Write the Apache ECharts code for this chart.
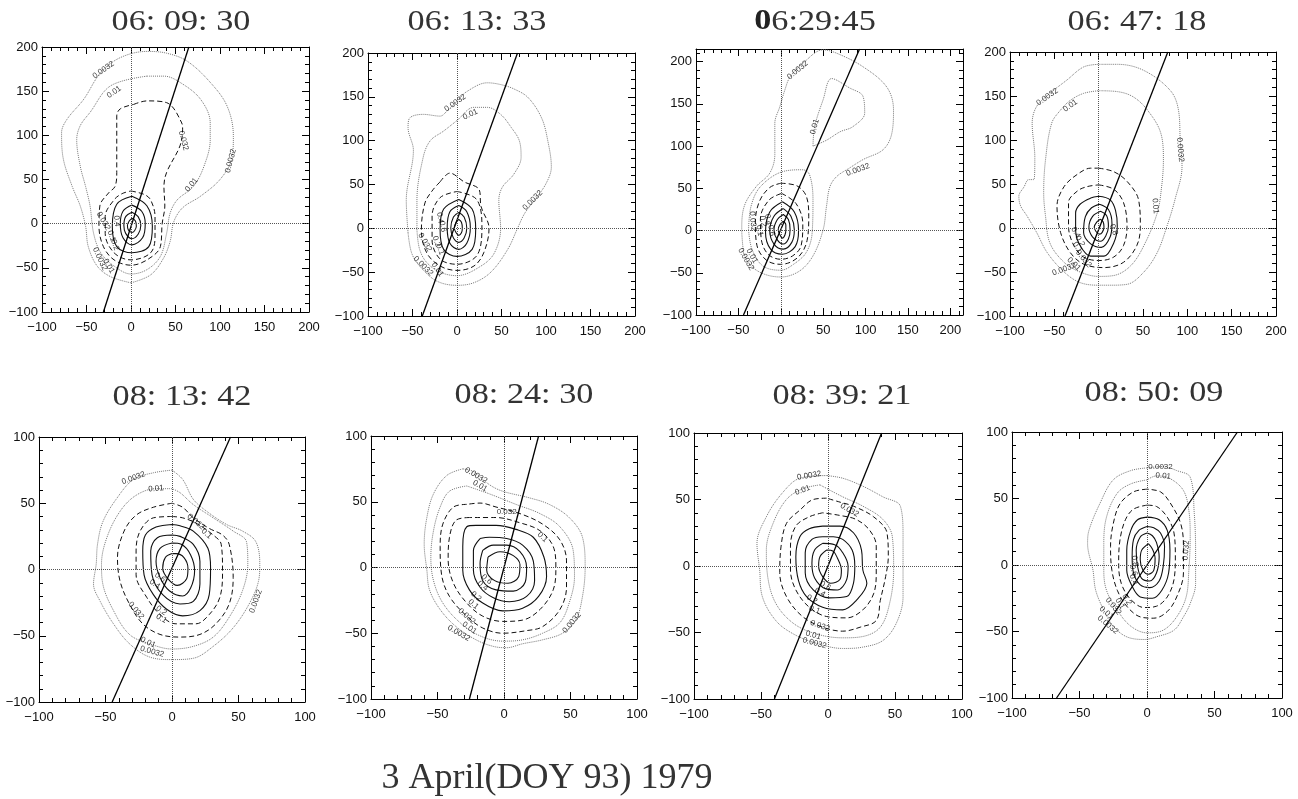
<!DOCTYPE html>
<html><head><meta charset="utf-8">
<script src="https://cdn.jsdelivr.net/npm/echarts@6/dist/echarts.min.js"></script>
<style>html,body{margin:0;padding:0;background:#fff}#c{width:1298px;height:799px}</style>
</head><body><div id="c"></div>
<script>
// ---------------- DATA ----------------
const panelTitles = ['06: 09: 30','06: 13: 33','06:29:45','06: 47: 18','08: 13: 42','08: 24: 30','08: 39: 21','08: 50: 09'];
const figureTitle = '3 April(DOY 93) 1979';
const axisMin = [-100,-100,-100,-100,-100,-100,-100,-100];
const axisMax = [200,200,215,200,100,100,100,100];
const tickStep = 50;
const levels = [0.0032, 0.01, 0.032, 0.1, 0.2, 0.4, 0.6, 0.8];
// straight line through each panel: [point at bottom edge, point at top edge]
const lineEnds = [
  [[-31,-100],[65,200]], [[-39,-100],[68,200]], [[-44,-100],[93,215]], [[-38,-100],[78,200]],
  [[-45,-100],[44,100]], [[-26,-100],[26,100]], [[-40,-100],[40,100]], [[-67,-100],[67,100]]
];
// contours: [level, closed outline points]
const contours1 = [
 [0.0032, [[0,-67],[-23,-60],[-38,-48],[-48,-26],[-51,-3],[-57,20],[-66,42],[-76,73],[-78,103],[-72,118],[-53,141],[-34,171],[-12,188],[18,195],[40,193],[63,184],[89,160],[108,133],[115,99],[113,73],[100,50],[78,31],[58,18],[48,2],[44,-20],[36,-40],[22,-58]]],
 [0.01, [[18,167],[37,167],[55,160],[78,141],[89,114],[89,95],[82,65],[70,42],[52,27],[44,12],[40,-11],[33,-37],[18,-52],[0,-57],[-19,-48],[-34,-33],[-42,-11],[-46,20],[-51,42],[-57,65],[-61,95],[-57,111],[-46,126],[-23,156]]],
 [0.032, [[3,135],[18,139],[40,137],[57,114],[58,107],[55,88],[40,58],[37,42],[38,20],[35,0],[33,-26],[18,-41],[0,-47],[-19,-41],[-31,-26],[-36,-3],[-35,20],[-25,35],[-18,42],[-16,58],[-16,122],[-12,130]]],
 [0.1, [[0,37],[15,33],[22,27],[27,8],[27,-14],[22,-33],[0,-41],[-19,-33],[-29,-11],[-29,8],[-19,27],[-10,34]]],
 [0.2, [[1,31],[18,20],[24,-3],[20,-26],[1,-33],[-16,-26],[-21,-3],[-16,22]]],
 [0.4, [[1,21],[12,14],[16,0],[13,-16],[1,-24],[-9,-16],[-12,0],[-9,14]]],
 [0.6, [[1,13],[8,8],[11,-2],[8,-12],[1,-17],[-6,-11],[-8,-2],[-6,8]]],
 [0.8, [[1,6],[5,3],[6,-3],[4,-8],[1,-10],[-3,-7],[-4,-2],[-2,3]]]
];
const contours2 = [
 [0.0032, [[-55,-5],[-57,32],[-49,89],[-55,115],[-53,126],[-38,130],[-19,128],[-11,134],[0,145],[11,156],[34,166],[49,164],[64,159],[80,149],[95,126],[102,100],[106,70],[100,51],[87,32],[76,17],[68,0],[57,-24],[38,-50],[19,-62],[0,-65],[-23,-60],[-42,-43],[-51,-28]]],
 [0.01, [[-45,-2],[-45,32],[-38,81],[-30,100],[-15,111],[0,123],[19,138],[34,138],[49,130],[61,115],[70,100],[72,81],[64,62],[51,47],[47,32],[49,0],[42,-28],[27,-43],[0,-54],[-19,-50],[-34,-39],[-42,-24]]],
 [0.032, [[-19,53],[-8,63],[8,53],[25,44],[27,25],[36,0],[30,-28],[19,-43],[0,-48],[-19,-43],[-34,-28],[-40,-2],[-36,29],[-27,44]]],
 [0.1, [[0,42],[22,33],[28,3],[23,-30],[0,-41],[-19,-35],[-28,-13],[-28,14],[-19,35]]],
 [0.2, [[2,33],[17,22],[21,-1],[17,-24],[0,-32],[-15,-24],[-19,-1],[-15,22]]],
 [0.4, [[2,26],[11,19],[15,1],[11,-17],[2,-24],[-8,-17],[-11,1],[-8,19]]],
 [0.6, [[2,18],[8,13],[11,0],[8,-11],[2,-16],[-4,-11],[-7,0],[-4,13]]],
 [0.8, [[2,10],[5,7],[6,0],[5,-5],[2,-8],[-1,-5],[-3,0],[-1,7]]]
];
const contours3 = [
 [0.0032, [[-44,-26],[-46,1],[-43,29],[-29,52],[-13,68],[-7,90],[-7,127],[-1,147],[5,167],[11,182],[26,198],[50,214],[66,210],[97,194],[125,170],[133,143],[131,115],[121,96],[97,84],[81,74],[66,64],[58,52],[54,29],[50,1],[38,-30],[22,-48],[0,-55],[-21,-51],[-37,-40]]],
 [0.01, [[-38,1],[-35,29],[-24,52],[3,70],[26,72],[34,66],[38,37],[37,-3],[30,-26],[15,-40],[0,-47],[-21,-42],[-34,-22]]],
 [0.01, [[38,100],[40,123],[50,155],[60,180],[81,169],[97,159],[99,139],[85,123],[70,117],[54,107]]],
 [0.032, [[0,56],[19,53],[30,41],[33,17],[31,-12],[20,-32],[0,-40],[-17,-35],[-28,-18],[-30,10],[-25,35],[-13,51]]],
 [0.1, [[1,44],[18,32],[26,8],[24,-18],[14,-30],[0,-34],[-15,-28],[-23,-10],[-24,14],[-14,36]]],
 [0.2, [[2,34],[16,22],[21,0],[17,-19],[2,-28],[-12,-22],[-18,-2],[-13,22]]],
 [0.4, [[3,26],[12,17],[16,1],[13,-14],[3,-22],[-8,-16],[-13,0],[-8,17]]],
 [0.6, [[3,19],[9,13],[11,1],[9,-10],[3,-16],[-4,-11],[-8,1],[-4,13]]],
 [0.8, [[3,11],[6,7],[6,1],[5,-5],[2,-9],[-1,-5],[-3,1],[-1,7]]]
];
const contours4 = [
 [0.0032, [[0,186],[21,186],[51,179],[81,156],[90,134],[92,100],[94,70],[86,32],[77,2],[66,-28],[51,-50],[32,-64],[13,-65],[0,-65],[-21,-62],[-39,-50],[-58,-28],[-70,-5],[-81,14],[-88,25],[-90,36],[-84,47],[-79,55],[-73,55],[-72,80],[-75,119],[-70,138],[-55,153],[-36,168],[-17,183]]],
 [0.01, [[0,156],[21,155],[39,149],[55,134],[70,108],[73,77],[71,47],[66,17],[51,-20],[36,-43],[17,-54],[0,-55],[-21,-50],[-39,-39],[-55,-17],[-60,14],[-62,40],[-60,77],[-53,119],[-43,134],[-32,145],[-17,153]]],
 [0.032, [[0,68],[17,64],[32,53],[45,32],[47,2],[43,-20],[28,-39],[6,-45],[-17,-41],[-32,-28],[-43,-5],[-47,25],[-39,47],[-24,61],[-9,68]]],
 [0.1, [[0,49],[17,44],[28,29],[32,2],[28,-20],[17,-33],[0,-37],[-17,-33],[-28,-20],[-34,2],[-34,29],[-24,42],[-13,47]]],
 [0.2, [[0,36],[13,32],[19,20],[21,2],[17,-17],[6,-32],[-9,-32],[-21,-20],[-26,-2],[-26,17],[-21,27],[-9,34]]],
 [0.4, [[1,27],[11,21],[15,5],[13,-10],[3,-22],[-9,-18],[-17,-5],[-15,13],[-8,23]]],
 [0.6, [[2,19],[9,14],[11,2],[8,-9],[2,-15],[-7,-10],[-11,1],[-7,13]]],
 [0.8, [[2,10],[5,7],[6,1],[4,-5],[1,-7],[-3,-4],[-5,1],[-2,7]]]
];
const contours5 = [
 [0.0032, [[0,75],[-14,73],[-29,68],[-42,53],[-52,36],[-56,19],[-57,4],[-59,-11],[-54,-24],[-44,-41],[-32,-56],[-17,-66],[0,-68],[16,-67],[31,-58],[46,-44],[58,-26],[65,-9],[66,4],[63,21],[53,29],[41,34],[26,44],[16,53],[8,68]]],
 [0.01, [[0,61],[-12,61],[-27,56],[-39,44],[-49,24],[-53,4],[-52,-11],[-44,-31],[-32,-49],[-17,-56],[0,-60],[16,-58],[31,-51],[43,-36],[53,-16],[57,4],[56,21],[46,29],[31,39],[16,49],[6,58]]],
 [0.032, [[0,50],[-14,47],[-27,41],[-36,29],[-41,9],[-39,-9],[-32,-26],[-22,-41],[-9,-49],[6,-51],[21,-49],[33,-41],[43,-26],[46,-6],[43,19],[38,26],[28,31],[16,39],[8,47]]],
 [0.1, [[0,40],[-14,39],[-24,29],[-27,14],[-27,-4],[-19,-21],[-9,-34],[3,-41],[18,-41],[28,-34],[36,-21],[38,-1],[37,19],[31,26],[18,35],[8,39]]],
 [0.2, [[0,34],[-12,32],[-20,26],[-22,14],[-21,-4],[-14,-19],[-4,-30],[8,-35],[21,-31],[28,-19],[29,1],[27,16],[16,29],[6,33]]],
 [0.4, [[0,26],[-11,24],[-16,14],[-15,-4],[-7,-19],[6,-26],[16,-24],[21,-11],[21,6],[16,19],[6,25]]],
 [0.6, [[0,20],[-9,16],[-12,6],[-9,-6],[-2,-16],[8,-20],[14,-14],[17,-1],[14,11],[7,19]]],
 [0.8, [[0,12],[-5,9],[-7,1],[-3,-7],[4,-12],[11,-7],[12,1],[9,9],[3,12]]]
];
const contours6 = [
 [0.0032, [[-31,75],[-43,70],[-53,56],[-58,38],[-60,18],[-58,-2],[-56,-17],[-48,-32],[-36,-45],[-21,-55],[-8,-60],[2,-61],[14,-58],[29,-55],[44,-50],[54,-40],[59,-22],[61,0],[59,23],[49,38],[34,48],[19,53],[-1,58],[-11,63],[-23,73]]],
 [0.01, [[-28,62],[-41,58],[-48,46],[-53,28],[-55,8],[-53,-10],[-46,-27],[-33,-42],[-18,-52],[-1,-56],[14,-55],[29,-50],[42,-42],[49,-27],[53,-7],[52,13],[42,31],[27,41],[9,48],[-11,56]]],
 [0.032, [[-28,48],[-38,46],[-46,33],[-48,16],[-47,-5],[-41,-22],[-28,-37],[-16,-46],[-1,-50],[17,-48],[29,-45],[42,-32],[47,-15],[47,5],[42,21],[29,33],[12,41],[-6,46],[-18,49]]],
 [0.1, [[-26,38],[-36,36],[-41,23],[-42,6],[-38,-12],[-28,-27],[-16,-37],[-1,-41],[14,-40],[27,-32],[37,-17],[39,0],[37,16],[27,28],[12,34],[-6,38]]],
 [0.2, [[-21,32],[-28,31],[-31,16],[-31,-2],[-26,-17],[-16,-27],[-1,-33],[14,-31],[26,-22],[32,-7],[30,8],[22,23],[9,29],[-6,32]]],
 [0.4, [[-18,22],[-23,13],[-23,-2],[-18,-15],[-8,-23],[4,-26],[17,-22],[23,-10],[22,5],[14,17],[2,22],[-11,23]]],
 [0.6, [[-16,13],[-18,3],[-16,-10],[-6,-17],[7,-18],[16,-11],[17,0],[12,12],[2,17],[-8,17]]],
 [0.8, [[-12,8],[-13,-2],[-7,-10],[3,-12],[11,-7],[12,2],[7,9],[-3,12]]]
];
const contours7 = [
 [0.0032, [[-1,68],[-21,66],[-34,55],[-46,37],[-53,17],[-51,-3],[-49,-23],[-39,-41],[-26,-51],[-9,-58],[11,-62],[26,-61],[41,-56],[51,-43],[56,-23],[56,2],[56,22],[54,45],[41,52],[26,60],[11,66]]],
 [0.01, [[-6,61],[-19,58],[-31,50],[-41,32],[-46,12],[-45,-8],[-39,-28],[-26,-43],[-9,-51],[11,-54],[26,-53],[39,-46],[46,-28],[49,-3],[48,22],[41,35],[26,45],[11,52]]],
 [0.032, [[-1,51],[-11,50],[-21,42],[-31,32],[-35,15],[-36,-5],[-31,-23],[-19,-38],[-4,-46],[11,-49],[24,-46],[36,-41],[39,-26],[43,-8],[45,7],[44,25],[34,37],[19,45],[9,48]]],
 [0.1, [[-4,40],[-14,37],[-24,30],[-28,15],[-28,-3],[-24,-18],[-14,-31],[-1,-38],[14,-39],[26,-33],[34,-21],[36,-6],[36,15],[31,27],[21,35],[9,38]]],
 [0.2, [[-4,30],[-14,28],[-21,22],[-24,7],[-22,-11],[-16,-23],[-4,-31],[11,-33],[21,-26],[29,-13],[26,-3],[25,12],[19,25],[9,30]]],
 [0.4, [[-4,22],[-12,20],[-17,10],[-17,-5],[-11,-18],[1,-24],[14,-23],[19,-13],[20,0],[18,12],[11,20],[4,22]]],
 [0.6, [[-4,17],[-10,12],[-12,2],[-10,-9],[-2,-17],[7,-18],[14,-10],[15,0],[11,10],[5,16]]],
 [0.8, [[-1,12],[-6,7],[-7,0],[-4,-8],[2,-13],[9,-10],[10,-3],[7,6],[4,11]]]
];
const contours8 = [
 [0.0032, [[0,73],[-12,71],[-25,64],[-35,46],[-43,26],[-44,16],[-40,-4],[-38,-19],[-32,-34],[-25,-46],[-15,-54],[-2,-56],[7,-54],[20,-49],[27,-39],[32,-29],[36,-14],[36,11],[35,39],[32,66],[22,71],[12,74]]],
 [0.01, [[0,64],[-12,61],[-22,54],[-30,36],[-32,16],[-32,-4],[-30,-19],[-22,-34],[-12,-46],[0,-51],[12,-49],[22,-39],[29,-24],[31,-4],[32,21],[31,41],[27,56],[17,65],[7,67]]],
 [0.032, [[0,57],[-10,55],[-20,46],[-25,31],[-27,14],[-26,-4],[-22,-19],[-15,-31],[-5,-39],[5,-40],[15,-35],[22,-24],[27,-6],[27,14],[25,31],[17,47],[10,55]]],
 [0.1, [[0,45],[-10,42],[-16,34],[-20,19],[-21,1],[-19,-14],[-12,-26],[-2,-32],[7,-31],[15,-24],[20,-11],[21,6],[20,24],[15,36],[7,44]]],
 [0.2, [[0,36],[-7,34],[-12,26],[-15,11],[-15,-4],[-11,-16],[-5,-24],[4,-25],[11,-19],[16,-6],[17,11],[15,26],[9,34]]],
 [0.4, [[0,29],[-6,26],[-10,19],[-11,6],[-10,-6],[-5,-15],[2,-17],[9,-12],[12,-1],[13,14],[10,24],[5,28]]],
 [0.6, [[0,24],[-5,21],[-8,11],[-7,-1],[-4,-10],[2,-12],[7,-6],[9,6],[7,17],[4,22]]],
 [0.8, [[1,16],[-4,11],[-5,4],[-3,-4],[1,-7],[5,-4],[6,5],[4,12]]]
];
// contour labels: [x, y, text, angle]
const labels1 = [[-31,174,'0.0032',35],[-19,149,'0.01',35],[59,94,'0.032',-75],[112,71,'0.0032',75],[68,44,'0.01',50],[-31,3,'0.032',-60],[-16,3,'0.4',-85],[-22,-14,'0.1',-70],[-18,-24,'0.2',-70],[-35,-40,'0.0032',-65],[-25,-48,'0.01',-60]];
const labels2 = [[-2,143,'0.0032',35],[15,130,'0.01',25],[85,32,'0.0032',45],[-19,12,'0.4',-80],[-16,2,'0.6',-80],[-36,-16,'0.032',-60],[-23,-15,'0.2',-70],[-19,-24,'0.1',-70],[-38,-43,'0.0032',-45],[-22,-47,'0.01',-55]];
const labels3 = [[20,190,'0.0032',40],[40,123,'0.01',75],[91,72,'0.0032',20],[-33,11,'0.032',-85],[-15,13,'0.4',-80],[-21,11,'0.2',-80],[-25,0,'0.1',-80],[-11,0,'0.6',-80],[-41,-34,'0.0032',-60],[-34,-30,'0.01',-60]];
const labels4 = [[-58,149,'0.0032',35],[-32,139,'0.01',35],[92,89,'0.0032',-85],[64,25,'0.01',-85],[17,-2,'0.8',-70],[-26,-5,'0.4',-60],[-21,-15,'0.2',-60],[-24,-22,'0.1',-55],[-17,-35,'0.032',-50],[-28,-41,'0.01',-45],[-39,-47,'0.0032',20]];
const labels5 = [[-29,69,'0.0032',20],[-12,61,'0.01',5],[18,36,'0.032',-40],[26,27,'0.1',-40],[-9,-6,'0.6',-35],[-13,-11,'0.4',-35],[-27,-31,'0.032',-50],[-8,-31,'0.2',-35],[-8,-37,'0.1',-30],[-18,-55,'0.01',-25],[-15,-62,'0.0032',-15],[63,-24,'0.0032',70]];
const labels6 = [[-21,70,'0.0032',-30],[-18,62,'0.01',-30],[2,42,'0.032',0],[29,23,'0.1',-45],[-13,-9,'0.6',-40],[-16,-14,'0.4',-40],[-21,-22,'0.2',-40],[-23,-28,'0.1',-40],[-28,-37,'0.032',-40],[-26,-46,'0.01',-35],[-34,-50,'0.0032',-30],[51,-42,'0.0032',50]];
const labels7 = [[-14,68,'0.0032',10],[-19,57,'0.01',20],[16,42,'0.032',-30],[-2,-15,'0.6',-30],[-6,-20,'0.4',-30],[-12,-25,'0.2',-30],[-10,-33,'0.1',-20],[-6,-45,'0.032',-20],[-11,-52,'0.01',-15],[-10,-58,'0.0032',-15]];
const labels8 = [[10,74,'0.0032',0],[12,67,'0.01',-5],[29,11,'0.032',85],[-9,3,'0.8',-80],[-10,-4,'0.6',-75],[-10,-11,'0.4',-70],[-15,-26,'0.2',-60],[-20,-29,'0.1',-60],[-25,-31,'0.032',-50],[-30,-36,'0.01',-40],[-29,-45,'0.0032',-40]];

// ---------------- LAYOUT / STYLE ----------------
const allContours = [contours1,contours2,contours3,contours4,contours5,contours6,contours7,contours8];
const allLabels = [labels1,labels2,labels3,labels4,labels5,labels6,labels7,labels8];
const boxes = [[42,47,267,265],[368,53,267,263],[696,49,267,266],[1010,52,266,264],[39,437,266,265],[371,436,266,263],[694,433,268,266],[1012,432,270,266]];
const titlePos = [[181,22],[477,22],[815,22],[1137,22],[182,397],[524,395],[842,396],[1154,393]];

function levelStyle(lv){
  if (lv <= 0.01) return {color:'#777', width:1, type:'dotted'};
  if (lv <= 0.1) return {color:'#111', width:1, type:[5,3]};
  return {color:'#111', width:1.1, type:'solid'};
}
function fmt(v){ return String(v).replace('-', '\u2212'); }
function mkAxis(gi, pos, min, max, showLabel, isX){
  return {
    type:'value', gridIndex:gi, position:pos, min:min, max:max, interval:tickStep,
    axisLine:{show:true, onZero:false, lineStyle:{color:'#000', width:1}},
    axisTick:{show:true, inside:true, length:7, lineStyle:{color:'#000', width:1}},
    minorTick:{show:true, splitNumber:5, length:4, lineStyle:{color:'#000', width:1}},
    splitLine:{show:false}, minorSplitLine:{show:false},
    axisLabel:{show:showLabel, margin: isX ? 9 : 4, fontSize:13, color:'#111',
      fontFamily:'Liberation Sans', showMaxLabel: max % tickStep === 0,
      formatter: v => (v % tickStep === 0 ? fmt(v) : '')}
  };
}

const grid=[], xAxis=[], yAxis=[], series=[], graphic=[];
for (let i=0;i<8;i++){
  const b = boxes[i];
  grid.push({left:b[0], top:b[1], width:b[2], height:b[3], containLabel:false});
  xAxis.push(mkAxis(i,'bottom',axisMin[i],axisMax[i],true,true));
  xAxis.push(mkAxis(i,'top',axisMin[i],axisMax[i],false,true));
  yAxis.push(mkAxis(i,'left',axisMin[i],axisMax[i],true,false));
  yAxis.push(mkAxis(i,'right',axisMin[i],axisMax[i],false,false));
  const xi = 2*i, yi = 2*i;
  allContours[i].forEach(c => {
    const pts = c[1].concat([c[1][0]]);
    series.push({type:'line', xAxisIndex:xi, yAxisIndex:yi, data:pts, smooth:0.35,
      symbol:'none', silent:true, animation:false, lineStyle:levelStyle(c[0]), z:2});
  });
  series.push({type:'line', xAxisIndex:xi, yAxisIndex:yi, data:lineEnds[i], symbol:'none',
    silent:true, animation:false, lineStyle:{color:'#000', width:1.3}, z:4,
    markLine:{silent:true, symbol:['none','none'], animation:false, label:{show:false},
      lineStyle:{type:'dotted', color:'#555', width:1},
      emphasis:{disabled:true}, data:[{xAxis:0},{yAxis:0}]}});
  series.push({type:'scatter', xAxisIndex:xi, yAxisIndex:yi, symbolSize:1, silent:true,
    animation:false, itemStyle:{color:'rgba(0,0,0,0)'}, z:3,
    data: allLabels[i].map(l => ({value:[l[0],l[1]],
      label:{show:true, position:'inside', rotate:l[3], formatter:l[2],
        fontSize:8, fontFamily:'Liberation Sans', color:'#000'}}))});
  const t = panelTitles[i];
  const boldFirst = (i === 2);
  graphic.push({type:'text', x:titlePos[i][0], y:titlePos[i][1], scaleX:1.18, silent:true,
    style: boldFirst ? {
      text:'{b|' + t.charAt(0) + '}{n|' + t.slice(1) + '}',
      rich:{b:{fontSize:29, fontFamily:'Liberation Serif', fontWeight:'bold', fill:'#222'},
            n:{fontSize:29, fontFamily:'Liberation Serif', fill:'#333'}},
      fontSize:29, fontFamily:'Liberation Serif', fill:'#333', align:'center', verticalAlign:'middle'
    } : {text:t, fontSize:29, fontFamily:'Liberation Serif', fill:'#333',
      align:'center', verticalAlign:'middle'}});
}
graphic.push({type:'text', x:547, y:779, silent:true,
  style:{text:figureTitle, fontSize:36, fontFamily:'Liberation Serif', fill:'#333',
    align:'center', verticalAlign:'middle'}});

const chart = echarts.init(document.getElementById('c'));
chart.setOption({animation:false, backgroundColor:'#fff', grid, xAxis, yAxis, series, graphic});
</script></body></html>
